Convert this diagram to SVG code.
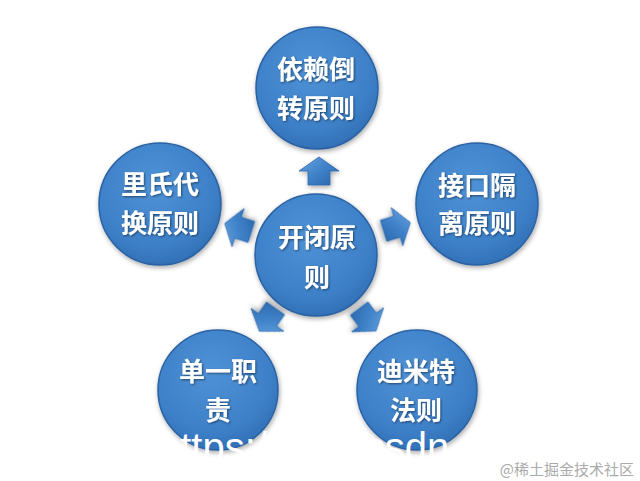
<svg xmlns="http://www.w3.org/2000/svg" width="640" height="481" viewBox="0 0 640 481">
<defs>
<radialGradient id="ball" cx="0.45" cy="0.35" r="0.7">
<stop offset="0" stop-color="#4f92d6"/>
<stop offset="0.7" stop-color="#3d80c8"/>
<stop offset="1" stop-color="#2f6cb2"/>
</radialGradient>
<linearGradient id="arw" x1="0" y1="0" x2="1" y2="1">
<stop offset="0" stop-color="#6aa6e0"/>
<stop offset="0.5" stop-color="#3f82c9"/>
<stop offset="1" stop-color="#2a64a8"/>
</linearGradient>
<filter id="sh" x="-20%" y="-20%" width="140%" height="140%">
<feGaussianBlur in="SourceAlpha" stdDeviation="2.5"/>
<feOffset dx="1" dy="2" result="b"/>
<feComponentTransfer><feFuncA type="linear" slope="0.35"/></feComponentTransfer>
<feMerge><feMergeNode/><feMergeNode in="SourceGraphic"/></feMerge>
</filter>
<filter id="ts" x="-10%" y="-10%" width="120%" height="130%">
<feGaussianBlur in="SourceAlpha" stdDeviation="0.8"/>
<feOffset dx="0.5" dy="1"/>
<feComponentTransfer><feFuncA type="linear" slope="0.5"/></feComponentTransfer>
<feMerge><feMergeNode/><feMergeNode in="SourceGraphic"/></feMerge>
</filter>
<path id="ar" d="M0,-15 L20,-1 L11,-1 L11,13 L-11,13 L-11,-1 L-20,-1 Z"/>
</defs>
<style>
.c{fill:url(#ball);stroke:#2b62a3;stroke-width:1.5;filter:url(#sh)}
.t{font-family:"Noto Sans CJK SC","Noto Sans",sans-serif;font-size:26px;font-weight:bold;fill:#ffffff;text-anchor:middle;filter:url(#ts)}
.a{fill:url(#arw);stroke:#2d67aa;stroke-width:0.8;filter:url(#sh)}
.url{font-family:"Liberation Sans",Arial,sans-serif;font-size:40px;fill:#ffffff}
.wm{font-family:"Noto Sans CJK SC",sans-serif;font-size:15px;fill:#aaaaaa;text-anchor:end}
</style>
<rect width="640" height="481" fill="#ffffff"/>
<g id="connectors">
<use href="#ar" class="a" transform="translate(319,172)"/>
<use href="#ar" class="a" transform="translate(239,228) rotate(-72.5)"/>
<use href="#ar" class="a" transform="translate(396,227) rotate(73)"/>
<use href="#ar" class="a" transform="translate(268,319) rotate(-145)"/>
<use href="#ar" class="a" transform="translate(367,319) rotate(143)"/>
</g>
<g id="n-top">
<circle class="c" cx="317" cy="88" r="61"/>
<text class="t" x="316" y="78.5">依赖倒</text>
<text class="t" x="316" y="117.5">转原则</text>
</g>
<g id="n-left">
<circle class="c" cx="160" cy="204" r="61"/>
<text class="t" x="160" y="194">里氏代</text>
<text class="t" x="160" y="233">换原则</text>
</g>
<g id="n-right">
<circle class="c" cx="477" cy="204" r="61"/>
<text class="t" x="477" y="195">接口隔</text>
<text class="t" x="477" y="233">离原则</text>
</g>
<g id="n-center">
<circle class="c" cx="316" cy="255" r="61"/>
<text class="t" x="317" y="246.5">开闭原</text>
<text class="t" x="317" y="286.5">则</text>
</g>
<g id="n-bottom-left">
<circle class="c" cx="218" cy="390" r="60"/>
<text class="t" x="218" y="381">单一职</text>
<text class="t" x="218" y="420">责</text>
</g>
<g id="n-bottom-right">
<circle class="c" cx="417" cy="390" r="60"/>
<text class="t" x="416" y="381">迪米特</text>
<text class="t" x="416" y="420">法则</text>
</g>
<text class="url" x="158" y="461">https://blog.csdn.net</text>
<text class="wm" x="634" y="475">@稀土掘金技术社区</text>
</svg>
